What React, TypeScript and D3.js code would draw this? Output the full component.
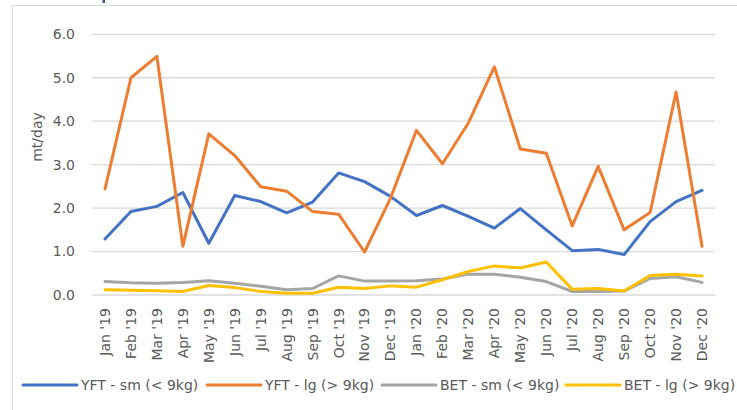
import React from "react";
import * as d3 from "d3";

const months = [
  "Jan '19", "Feb '19", "Mar '19", "Apr '19", "May '19", "Jun '19", "Jul '19", "Aug '19", "Sep '19", "Oct '19", "Nov '19", "Dec '19",
  "Jan '20", "Feb '20", "Mar '20", "Apr '20", "May '20", "Jun '20", "Jul '20", "Aug '20", "Sep '20", "Oct '20", "Nov '20", "Dec '20",
];

const yftSm = [1.29, 1.92, 2.04, 2.36, 1.19, 2.29, 2.15, 1.89, 2.14, 2.81, 2.61, 2.27, 1.83, 2.06, 1.81, 1.54, 1.99, 1.5, 1.02, 1.05, 0.93, 1.69, 2.15, 2.41];
const yftLg = [2.44, 5.0, 5.49, 1.12, 3.71, 3.21, 2.49, 2.39, 1.92, 1.86, 0.99, 2.23, 3.79, 3.02, 3.96, 5.25, 3.36, 3.26, 1.59, 2.96, 1.5, 1.9, 4.67, 1.12];
const betSm = [0.31, 0.28, 0.27, 0.29, 0.33, 0.27, 0.2, 0.12, 0.15, 0.44, 0.32, 0.32, 0.33, 0.37, 0.48, 0.48, 0.41, 0.31, 0.08, 0.08, 0.09, 0.38, 0.42, 0.29];
const betLg = [0.12, 0.11, 0.1, 0.08, 0.22, 0.17, 0.08, 0.04, 0.04, 0.18, 0.15, 0.21, 0.18, 0.35, 0.54, 0.67, 0.62, 0.76, 0.13, 0.15, 0.09, 0.45, 0.48, 0.44];

const seriesNames = ["YFT - sm (< 9kg)", "YFT - lg (> 9kg)", "BET - sm (< 9kg)", "BET - lg (> 9kg)"];
const seriesColors = ["#4472C4", "#ED7D31", "#A5A5A5", "#FFC000"];
const seriesValues = [yftSm, yftLg, betSm, betLg];

const yTicks = [0, 1, 2, 3, 4, 5, 6];
const yLabel = "mt/day";

const FONT = "'DejaVu Sans', sans-serif";
const TEXT = "#595959";

export default function App() {
  const x = d3.scaleBand<string>().domain(months).range([92, 715]);
  const y = d3.scaleLinear().domain([0, 6]).range([295, 34.3]);
  const cx = (m: string) => (x(m) as number) + x.bandwidth() / 2;

  const line = d3
    .line<number>()
    .x((_, i) => cx(months[i]))
    .y((d) => y(d));

  const legendStarts = [23, 207, 382, 566];

  return (
    <svg
      width={737}
      height={410}
      style={{ position: "fixed", left: 0, top: 0, background: "#fff" }}
      fontFamily={FONT}
    >
      <rect x={0} y={0} width={737} height={410} fill="#fff" />
      <rect x={12.5} y={5.5} width={760} height={440} fill="none" stroke="#d9d9d9" strokeWidth={1} />
      <rect x={102.5} y={0} width={2.5} height={3} fill="#2F5597" />

      {yTicks.map((t) => (
        <g key={t}>
          <line x1={92} x2={715} y1={y(t)} y2={y(t)} stroke="#d9d9d9" strokeWidth={1.3} />
          <text x={75} y={y(t)} dy="0.35em" textAnchor="end" fontSize={14} fill={TEXT}>
            {t.toFixed(1)}
          </text>
        </g>
      ))}

      <text
        transform={`translate(37,137) rotate(-90)`}
        textAnchor="middle"
        dy="0.35em"
        fontSize={14}
        fill={TEXT}
      >
        {yLabel}
      </text>

      {months.map((m) => (
        <text
          key={m}
          transform={`translate(${cx(m)},308) rotate(-90)`}
          textAnchor="end"
          dy="0.35em"
          fontSize={14}
          fill={TEXT}
        >
          {m}
        </text>
      ))}

      {seriesValues.map((vals, i) => (
        <path
          key={seriesNames[i]}
          d={line(vals) || ""}
          fill="none"
          stroke={seriesColors[i]}
          strokeWidth={3}
          strokeLinejoin="round"
          strokeLinecap="round"
        />
      ))}

      {seriesNames.map((name, i) => (
        <g key={name}>
          <line
            x1={legendStarts[i]}
            x2={legendStarts[i] + 54}
            y1={385}
            y2={385}
            stroke={seriesColors[i]}
            strokeWidth={3}
            strokeLinecap="round"
          />
          <text x={legendStarts[i] + 58} y={385} dy="0.35em" fontSize={14} fill={TEXT}>
            {name}
          </text>
        </g>
      ))}
    </svg>
  );
}
